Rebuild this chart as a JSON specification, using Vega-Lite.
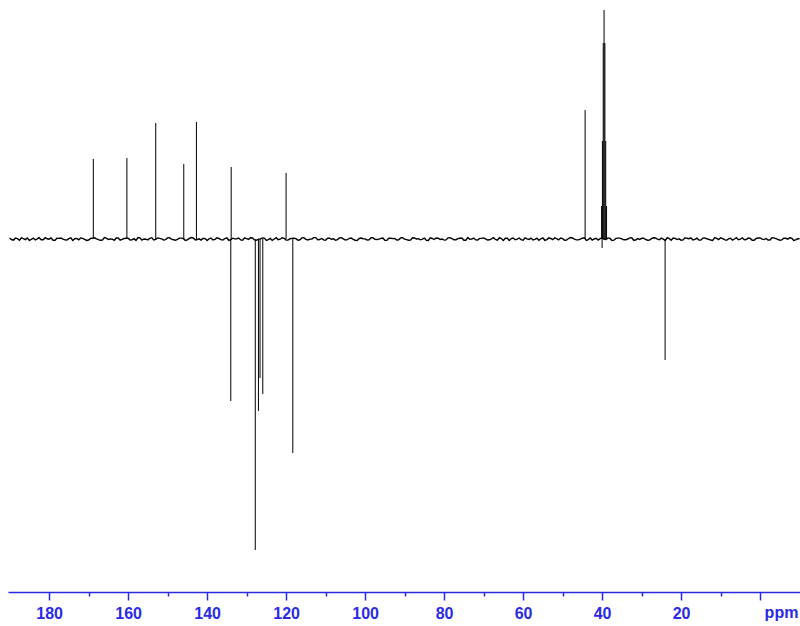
{
  "$schema": "https://vega.github.io/schema/vega-lite/v6.json",
  "width": 792,
  "height": 592,
  "autosize": {"type": "none"},
  "padding": {"left": 8, "top": 0, "right": 0, "bottom": 34},
  "background": "white",
  "config": {"view": {"stroke": null}},
  "datasets": {
    "noise": [
      {"p":190,"v":0.8},{"p":189,"v":-1.1},{"p":188,"v":0.3},{"p":187,"v":1.2},{"p":186,"v":-0.6},{"p":185,"v":-1.4},{"p":184,"v":0.9},{"p":183,"v":0.1},{"p":182,"v":-0.8},{"p":181,"v":1.3},
      {"p":180,"v":-0.2},{"p":179,"v":-1.2},{"p":178,"v":0.7},{"p":177,"v":1.0},{"p":176,"v":-0.9},{"p":175,"v":0.4},{"p":174,"v":-1.5},{"p":173,"v":0.6},{"p":172,"v":1.1},{"p":171,"v":-0.3},
      {"p":170,"v":-1.0},{"p":169,"v":0.9},{"p":168,"v":0.2},{"p":167,"v":-1.3},{"p":166,"v":1.4},{"p":165,"v":-0.5},{"p":164,"v":-0.1},{"p":163,"v":1.0},{"p":162,"v":-1.2},{"p":161,"v":0.5},
      {"p":160,"v":0.8},{"p":159,"v":-0.7},{"p":158,"v":-1.4},{"p":157,"v":1.2},{"p":156,"v":0.0},{"p":155,"v":-0.9},{"p":154,"v":1.3},{"p":153,"v":-0.4},{"p":152,"v":0.6},{"p":151,"v":-1.1},
      {"p":150,"v":1.1},{"p":149,"v":-0.2},{"p":148,"v":-1.3},{"p":147,"v":0.9},{"p":146,"v":0.3},{"p":145,"v":-0.8},{"p":144,"v":1.4},{"p":143,"v":-1.0},{"p":142,"v":0.2},{"p":141,"v":0.7},
      {"p":140,"v":-1.5},{"p":139,"v":1.0},{"p":138,"v":-0.3},{"p":137,"v":0.5},{"p":136,"v":-1.1},{"p":135,"v":1.2},{"p":134,"v":-0.6},{"p":133,"v":0.1},{"p":132,"v":0.9},{"p":131,"v":-1.2},
      {"p":130,"v":0.4},{"p":129,"v":1.3},{"p":128,"v":-0.9},{"p":127,"v":-0.2},{"p":126,"v":1.0},{"p":125,"v":-1.4},{"p":124,"v":0.6},{"p":123,"v":0.0},{"p":122,"v":-0.7},{"p":121,"v":1.2},
      {"p":120,"v":-1.0},{"p":119,"v":0.3},{"p":118,"v":0.8},{"p":117,"v":-1.3},{"p":116,"v":1.1},{"p":115,"v":-0.4},{"p":114,"v":-0.1},{"p":113,"v":1.4},{"p":112,"v":-0.8},{"p":111,"v":0.5},
      {"p":110,"v":-1.2},{"p":109,"v":0.9},{"p":108,"v":0.2},{"p":107,"v":-0.6},{"p":106,"v":1.3},{"p":105,"v":-1.1},{"p":104,"v":0.7},{"p":103,"v":-0.3},{"p":102,"v":-1.4},{"p":101,"v":1.0},
      {"p":100,"v":0.1},{"p":99,"v":-0.9},{"p":98,"v":1.2},{"p":97,"v":-0.5},{"p":96,"v":0.6},{"p":95,"v":-1.3},{"p":94,"v":0.8},{"p":93,"v":0.4},{"p":92,"v":-1.0},{"p":91,"v":1.1},
      {"p":90,"v":-0.2},{"p":89,"v":-1.2},{"p":88,"v":1.3},{"p":87,"v":0.0},{"p":86,"v":-0.8},{"p":85,"v":0.9},{"p":84,"v":-1.5},{"p":83,"v":0.5},{"p":82,"v":1.0},{"p":81,"v":-0.4},
      {"p":80,"v":-1.1},{"p":79,"v":1.2},{"p":78,"v":0.3},{"p":77,"v":-0.7},{"p":76,"v":0.8},{"p":75,"v":-1.3},{"p":74,"v":1.4},{"p":73,"v":-0.1},{"p":72,"v":-0.9},{"p":71,"v":0.6},
      {"p":70,"v":1.1},{"p":69,"v":-1.0},{"p":68,"v":0.2},{"p":67,"v":-0.5},{"p":66,"v":1.3},{"p":65,"v":-1.4},{"p":64,"v":0.7},{"p":63,"v":0.4},{"p":62,"v":-0.8},{"p":61,"v":1.0},
      {"p":60,"v":-1.2},{"p":59,"v":0.1},{"p":58,"v":0.9},{"p":57,"v":-0.3},{"p":56,"v":-1.3},{"p":55,"v":1.2},{"p":54,"v":-0.6},{"p":53,"v":0.5},{"p":52,"v":1.1},{"p":51,"v":-0.9},
      {"p":50,"v":0.3},{"p":49,"v":-1.1},{"p":48,"v":1.4},{"p":47,"v":-0.2},{"p":46,"v":-0.7},{"p":45,"v":0.8},{"p":44,"v":-1.4},{"p":43,"v":1.0},{"p":42,"v":0.0},{"p":41,"v":-1.0},
      {"p":40,"v":1.3},{"p":39,"v":-0.5},{"p":38,"v":0.6},{"p":37,"v":-1.2},{"p":36,"v":0.9},{"p":35,"v":0.2},{"p":34,"v":-0.8},{"p":33,"v":1.1},{"p":32,"v":-1.3},{"p":31,"v":0.4},
      {"p":30,"v":0.7},{"p":29,"v":-0.4},{"p":28,"v":-1.1},{"p":27,"v":1.2},{"p":26,"v":-0.1},{"p":25,"v":0.9},{"p":24,"v":-1.5},{"p":23,"v":0.5},{"p":22,"v":1.0},{"p":21,"v":-0.6},
      {"p":20,"v":-1.2},{"p":19,"v":1.3},{"p":18,"v":0.3},{"p":17,"v":-0.9},{"p":16,"v":0.8},{"p":15,"v":-1.0},{"p":14,"v":1.1},{"p":13,"v":-0.3},{"p":12,"v":-1.4},{"p":11,"v":0.6},
      {"p":10,"v":1.2},{"p":9,"v":-0.7},{"p":8,"v":0.1},{"p":7,"v":-1.1},{"p":6,"v":1.4},{"p":5,"v":-0.2},{"p":4,"v":-0.8},{"p":3,"v":0.9},{"p":2,"v":-1.3},{"p":1,"v":0.5},
      {"p":0,"v":1.0},{"p":-1,"v":-0.6},{"p":-2,"v":-1.0},{"p":-3,"v":1.2},{"p":-4,"v":0.4},{"p":-5,"v":-1.2},{"p":-6,"v":0.7},{"p":-7,"v":-0.1},{"p":-8,"v":0.9},{"p":-9,"v":-0.9},
      {"p":-10,"v":0.3},
      {"p":189.5,"v":-0.5},{"p":188.5,"v":0.9},{"p":187.5,"v":-1.2},{"p":186.5,"v":0.4},{"p":185.5,"v":1.0},{"p":184.5,"v":-0.3},{"p":183.5,"v":-0.9},{"p":182.5,"v":1.3},{"p":181.5,"v":-0.7},{"p":180.5,"v":0.2},
      {"p":179.5,"v":1.1},{"p":178.5,"v":-1.3},{"p":177.5,"v":0.6},{"p":176.5,"v":-0.1},{"p":175.5,"v":-1.0},{"p":174.5,"v":1.2},{"p":173.5,"v":0.3},{"p":172.5,"v":-0.8},{"p":171.5,"v":0.7},{"p":170.5,"v":-1.4},
      {"p":169.5,"v":0.5},{"p":168.5,"v":1.2},{"p":167.5,"v":-0.6},{"p":166.5,"v":-1.1},{"p":165.5,"v":0.9},{"p":164.5,"v":0.0},{"p":163.5,"v":-1.3},{"p":162.5,"v":1.0},{"p":161.5,"v":-0.4},{"p":160.5,"v":0.8},
      {"p":159.5,"v":-0.9},{"p":158.5,"v":0.3},{"p":157.5,"v":1.4},{"p":156.5,"v":-1.2},{"p":155.5,"v":-0.2},{"p":154.5,"v":0.7},{"p":153.5,"v":-1.0},{"p":152.5,"v":1.1},{"p":151.5,"v":0.1},{"p":150.5,"v":-0.6},
      {"p":149.5,"v":1.3},{"p":148.5,"v":-0.8},{"p":147.5,"v":-0.3},{"p":146.5,"v":0.9},{"p":145.5,"v":-1.4},{"p":144.5,"v":0.6},{"p":143.5,"v":1.0},{"p":142.5,"v":-0.5},{"p":141.5,"v":-1.1},{"p":140.5,"v":0.4},
      {"p":139.5,"v":0.2},{"p":138.5,"v":-1.0},{"p":137.5,"v":1.2},{"p":136.5,"v":-0.7},{"p":135.5,"v":0.5},{"p":134.5,"v":-1.3},{"p":133.5,"v":0.8},{"p":132.5,"v":0.3},{"p":131.5,"v":-0.9},{"p":130.5,"v":1.1},
      {"p":129.5,"v":-0.4},{"p":128.5,"v":1.0},{"p":127.5,"v":-1.2},{"p":126.5,"v":0.1},{"p":125.5,"v":0.9},{"p":124.5,"v":-0.6},{"p":123.5,"v":-1.4},{"p":122.5,"v":1.3},{"p":121.5,"v":-0.2},{"p":120.5,"v":0.7},
      {"p":119.5,"v":-1.1},{"p":118.5,"v":0.6},{"p":117.5,"v":0.4},{"p":116.5,"v":-0.8},{"p":115.5,"v":1.2},{"p":114.5,"v":-1.0},{"p":113.5,"v":0.0},{"p":112.5,"v":1.4},{"p":111.5,"v":-0.5},{"p":110.5,"v":-0.9},
      {"p":109.5,"v":0.8},{"p":108.5,"v":-0.3},{"p":107.5,"v":-1.3},{"p":106.5,"v":1.1},{"p":105.5,"v":0.2},{"p":104.5,"v":-0.7},{"p":103.5,"v":1.0},{"p":102.5,"v":-1.2},{"p":101.5,"v":0.5},{"p":100.5,"v":0.3},
      {"p":99.5,"v":-1.0},{"p":98.5,"v":1.3},{"p":97.5,"v":-0.4},{"p":96.5,"v":-0.1},{"p":95.5,"v":0.9},{"p":94.5,"v":-1.4},{"p":93.5,"v":0.7},{"p":92.5,"v":0.6},{"p":91.5,"v":-0.8},{"p":90.5,"v":1.2},
      {"p":89.5,"v":-0.6},{"p":88.5,"v":-1.1},{"p":87.5,"v":1.0},{"p":86.5,"v":0.3},{"p":85.5,"v":-0.2},{"p":84.5,"v":-1.3},{"p":83.5,"v":1.1},{"p":82.5,"v":-0.5},{"p":81.5,"v":0.8},{"p":80.5,"v":0.0},
      {"p":79.5,"v":-0.9},{"p":78.5,"v":1.4},{"p":77.5,"v":-0.7},{"p":76.5,"v":0.4},{"p":75.5,"v":1.0},{"p":74.5,"v":-1.2},{"p":73.5,"v":-0.3},{"p":72.5,"v":0.9},{"p":71.5,"v":-1.0},{"p":70.5,"v":0.6},
      {"p":69.5,"v":0.1},{"p":68.5,"v":-0.8},{"p":67.5,"v":1.3},{"p":66.5,"v":-1.1},{"p":65.5,"v":0.5},{"p":64.5,"v":0.7},{"p":63.5,"v":-1.4},{"p":62.5,"v":1.0},{"p":61.5,"v":-0.2},{"p":60.5,"v":-0.6},
      {"p":59.5,"v":1.2},{"p":58.5,"v":-0.4},{"p":57.5,"v":-1.0},{"p":56.5,"v":0.8},{"p":55.5,"v":0.2},{"p":54.5,"v":-1.3},{"p":53.5,"v":1.1},{"p":52.5,"v":-0.7},{"p":51.5,"v":0.3},{"p":50.5,"v":0.9},
      {"p":49.5,"v":-1.2},{"p":48.5,"v":0.5},{"p":47.5,"v":1.0},{"p":46.5,"v":-0.9},{"p":45.5,"v":-0.1},{"p":44.5,"v":1.3},{"p":43.5,"v":-0.6},{"p":42.5,"v":-1.1},{"p":41.5,"v":0.7},{"p":40.5,"v":0.4},
      {"p":39.5,"v":-0.3},{"p":38.5,"v":1.1},{"p":37.5,"v":-1.4},{"p":36.5,"v":0.6},{"p":35.5,"v":0.9},{"p":34.5,"v":-0.8},{"p":33.5,"v":0.0},{"p":32.5,"v":1.2},{"p":31.5,"v":-1.0},{"p":30.5,"v":-0.5},
      {"p":29.5,"v":0.8},{"p":28.5,"v":-1.2},{"p":27.5,"v":0.3},{"p":26.5,"v":1.0},{"p":25.5,"v":-0.7},{"p":24.5,"v":-0.2},{"p":23.5,"v":1.4},{"p":22.5,"v":-1.3},{"p":21.5,"v":0.5},{"p":20.5,"v":0.1},
      {"p":19.5,"v":-0.9},{"p":18.5,"v":0.7},{"p":17.5,"v":1.1},{"p":16.5,"v":-0.4},{"p":15.5,"v":-1.1},{"p":14.5,"v":0.9},{"p":13.5,"v":0.2},{"p":12.5,"v":-1.0},{"p":11.5,"v":1.3},{"p":10.5,"v":-0.6},
      {"p":9.5,"v":0.4},{"p":8.5,"v":-1.3},{"p":7.5,"v":0.8},{"p":6.5,"v":0.0},{"p":5.5,"v":-0.8},{"p":4.5,"v":1.2},{"p":3.5,"v":-0.5},{"p":2.5,"v":0.6},{"p":1.5,"v":-1.2},{"p":0.5,"v":1.0},
      {"p":-0.5,"v":-0.1},{"p":-1.5,"v":0.5},{"p":-2.5,"v":-1.0},{"p":-3.5,"v":1.1},{"p":-4.5,"v":-0.3},{"p":-5.5,"v":-0.9},{"p":-6.5,"v":0.7},{"p":-7.5,"v":1.3},{"p":-8.5,"v":-1.4},{"p":-9.5,"v":0.2}
    ],
    "peaks": [
      {"p":168.8,"h":80},
      {"p":160.3,"h":81},
      {"p":153.0,"h":116},
      {"p":145.9,"h":75},
      {"p":142.7,"h":117},
      {"p":133.9,"h":72},
      {"p":134.0,"h":-162},
      {"p":127.8,"h":-311},
      {"p":127.0,"h":-172},
      {"p":126.6,"h":-139},
      {"p":125.9,"h":-155},
      {"p":120.0,"h":66},
      {"p":118.3,"h":-214},
      {"p":44.3,"h":129},
      {"p":40.13,"h":33},
      {"p":39.92,"h":98},
      {"p":39.71,"h":196},
      {"p":39.50,"h":229},
      {"p":39.29,"h":196},
      {"p":39.08,"h":98},
      {"p":38.87,"h":33},
      {"p":40.0,"h":-9},
      {"p":24.05,"h":-121}
    ]
  },
  "layer": [
    {
      "data": {"name": "noise"},
      "mark": {"type": "line", "color": "black", "strokeWidth": 1.4, "clip": true},
      "encoding": {
        "x": {
          "field": "p",
          "type": "quantitative",
          "scale": {"domain": [190.4, -10.1], "nice": false, "zero": false},
          "axis": {
            "values": [180,170,160,150,140,130,120,110,100,90,80,70,60,50,40,30,20,10,0],
            "grid": false,
            "domainColor": "#2a2ae6",
            "domainWidth": 1.5,
            "tickColor": "#2a2ae6",
            "tickWidth": 1.5,
            "tickSize": {"condition": {"test": "datum.value % 20 === 0", "value": 8}, "value": 4},
            "labelExpr": "datum.value % 20 === 0 && datum.value !== 0 ? datum.label : ''",
            "labelColor": "#2a2ae6",
            "labelFont": "Liberation Sans",
            "labelFontWeight": "bold",
            "labelFontSize": 16,
            "labelPadding": 5,
            "labelFlush": false,
            "title": "ppm",
            "titleX": 773,
            "titleY": 25,
            "titleAlign": "center",
            "titleBaseline": "alphabetic",
            "titleColor": "#2a2ae6",
            "titleFont": "Liberation Sans",
            "titleFontWeight": "bold",
            "titleFontSize": 16
          }
        },
        "y": {
          "field": "v",
          "type": "quantitative",
          "scale": {"domain": [-353, 239], "nice": false, "zero": false},
          "axis": null
        }
      }
    },
    {
      "data": {"name": "peaks"},
      "mark": {"type": "rule", "color": "black", "strokeWidth": 1},
      "encoding": {
        "x": {"field": "p", "type": "quantitative"},
        "y": {"field": "h", "type": "quantitative"},
        "y2": {"datum": 0}
      }
    }
  ]
}
